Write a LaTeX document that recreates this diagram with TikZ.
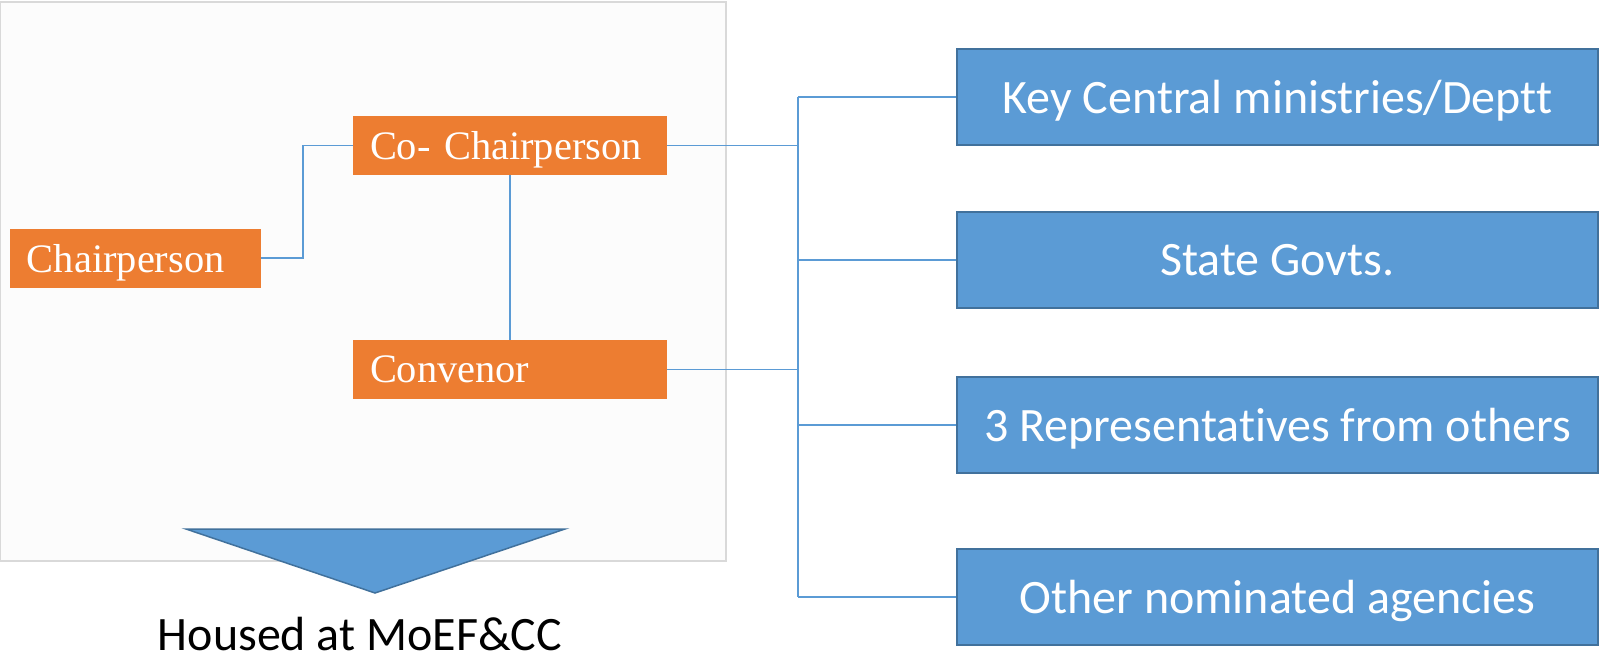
\documentclass[tikz,border=0pt]{standalone}
\usepackage{fontspec}
\setmainfont{Liberation Serif}
\newfontfamily\calibri[RawFeature=-liga]{Carlito}
\definecolor{boxorange}{HTML}{ED7D31}
\definecolor{boxblue}{HTML}{5B9BD5}
\definecolor{boxedge}{HTML}{41719C}
\definecolor{framegray}{HTML}{D9D9D9}
\tikzset{
  headbox/.style={rectangle, fill=boxorange, text=white, minimum height=11.8mm,
    inner xsep=3.4mm, align=left, text depth=0pt, font=\fontsize{23}{26}\selectfont},
  memberbox/.style={rectangle, fill=boxblue, draw=boxedge, line width=0.5mm,
    text=white, minimum width=128.2mm, minimum height=19.2mm, text depth=0pt,
    font=\calibri\fontsize{27.3}{32}\selectfont},
  link/.style={draw=boxblue, line width=0.3mm}
}
\begin{document}
\begin{tikzpicture}[x=0.2mm, y=-0.2mm]
   \useasboundingbox (0,0) rectangle (1604,663);
   % gray panel
   \path[fill=black!1, draw=framegray, line width=0.4mm] (0,2) rectangle (726,561);
   % heads
   \node[headbox, text width=43.4mm] (chair) at (135.5,258) {Chairperson};
   \node[headbox, text width=56mm] (cochair) at (510,145.5) {Co- Chairperson};
   \node[headbox, text width=56mm] (convenor) at (510,369.5) {Convenor};
   % members
   \node[memberbox] (central) at (1277.5,97) {Key Central ministries/Deptt};
   \node[memberbox] (state) at (1277.5,260) {State Govts.};
   \node[memberbox] (reps) at (1277.5,425) {3 Representatives from others};
   \node[memberbox] (agencies) at (1277.5,597) {Other nominated agencies};
   % trunk
   \coordinate (trunk) at (798,0);
   \draw[link] (trunk |- central.west) -- (trunk |- agencies.west);
   \foreach \m in {central,state,reps,agencies}
      \draw[link] (trunk |- \m.west) -- (\m.west);
   \draw[link] (cochair.east) -- (trunk |- cochair.east);
   \draw[link] (convenor.east) -- (trunk |- convenor.east);
   \draw[link] (cochair.south) -- (convenor.north);
   \coordinate (elbow) at (303,0);
   \draw[link] (chair.east) -- (elbow |- chair.east) -- (elbow |- cochair.west) -- (cochair.west);
   % housed arrow
   \draw[fill=boxblue, draw=boxedge, line width=0.3mm] (186,529) -- (565,529) -- (375,593) -- cycle;
   \node[font=\calibri\fontsize{27.3}{32}\selectfont, inner sep=1pt] (housed) at (360,634) {Housed at MoEF\&CC};
\end{tikzpicture}
\end{document}
